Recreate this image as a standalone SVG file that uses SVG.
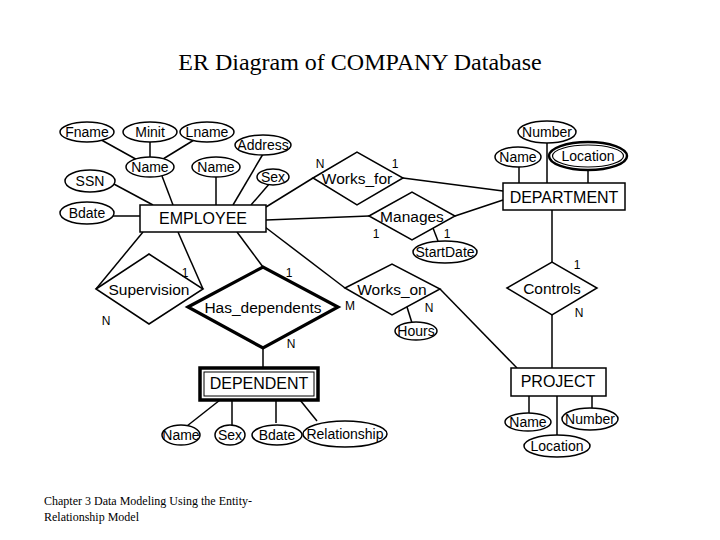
<svg xmlns="http://www.w3.org/2000/svg" width="720" height="540" viewBox="0 0 720 540">
<style>
.bg{fill:#fff}
.ln{stroke:#000;stroke-width:1.5;fill:none}
.sh{fill:#fff;stroke:#000;stroke-width:1.5}
.t{font-family:"Liberation Sans",Arial,sans-serif;fill:#000;text-anchor:middle}
.at{font-size:14px}
.en{font-size:16px}
.rl{font-size:15.5px}
.cd{font-size:12px}
.ser{font-family:"Liberation Serif","Times New Roman",serif;fill:#000}
</style>
<rect class="bg" x="0" y="0" width="720" height="540"/>
<text class="ser" x="360" y="70" font-size="24" text-anchor="middle">ER Diagram of COMPANY Database</text>
<g id="connectors">
<line class="ln" x1="87" y1="132" x2="150" y2="167"/>
<line class="ln" x1="150" y1="132" x2="150" y2="167"/>
<line class="ln" x1="207" y1="132" x2="150" y2="167"/>
<line class="ln" x1="162" y1="176" x2="173" y2="205"/>
<line class="ln" x1="216" y1="176" x2="216" y2="205"/>
<line class="ln" x1="263" y1="154" x2="233" y2="205"/>
<line class="ln" x1="270" y1="183" x2="251" y2="205"/>
<line class="ln" x1="112" y1="183" x2="153" y2="205"/>
<line class="ln" x1="113" y1="216" x2="140" y2="216" stroke-width="2.2"/>
<line class="ln" x1="266" y1="207" x2="313" y2="178"/>
<line class="ln" x1="403" y1="178" x2="503" y2="191"/>
<line class="ln" x1="266" y1="220" x2="369" y2="216"/>
<line class="ln" x1="455" y1="216" x2="503" y2="200"/>
<line class="ln" x1="433" y1="228" x2="438" y2="241"/>
<line class="ln" x1="519" y1="165" x2="519" y2="183"/>
<line class="ln" x1="547" y1="142" x2="547" y2="183"/>
<line class="ln" x1="588" y1="168" x2="588" y2="183"/>
<line class="ln" x1="552" y1="210" x2="552" y2="262"/>
<line class="ln" x1="552" y1="315" x2="552" y2="368"/>
<line class="ln" x1="143" y1="232" x2="96" y2="289"/>
<line class="ln" x1="178" y1="232" x2="203" y2="289"/>
<line class="ln" x1="237" y1="232" x2="263" y2="267"/>
<line class="ln" x1="263" y1="348" x2="263" y2="368"/>
<line class="ln" x1="265" y1="227" x2="345" y2="288"/>
<line class="ln" x1="440" y1="289" x2="517" y2="368"/>
<line class="ln" x1="407" y1="307" x2="412" y2="323"/>
<line class="ln" x1="220" y1="400" x2="187" y2="426"/>
<line class="ln" x1="232" y1="400" x2="232" y2="425"/>
<line class="ln" x1="276" y1="400" x2="276" y2="423"/>
<line class="ln" x1="300" y1="400" x2="317" y2="421"/>
<line class="ln" x1="529" y1="396" x2="529" y2="413"/>
<line class="ln" x1="557" y1="396" x2="557" y2="435"/>
<line class="ln" x1="592" y1="396" x2="592" y2="408"/>
</g>
<g id="fname"><ellipse class="sh" cx="87" cy="132" rx="27" ry="10"/><text class="t at" x="87" y="137">Fname</text></g>
<g id="minit"><ellipse class="sh" cx="150" cy="132" rx="27" ry="10"/><text class="t at" x="150" y="137">Minit</text></g>
<g id="lname"><ellipse class="sh" cx="207" cy="132" rx="27" ry="10"/><text class="t at" x="207" y="137">Lname</text></g>
<g id="address"><ellipse class="sh" cx="263" cy="145" rx="28" ry="10"/><text class="t at" x="263" y="150">Address</text></g>
<g id="emp-name"><ellipse class="sh" cx="150" cy="167" rx="24" ry="10"/><text class="t at" x="150" y="172">Name</text></g>
<g id="emp-name2"><ellipse class="sh" cx="216" cy="167" rx="24" ry="10"/><text class="t at" x="216" y="172">Name</text></g>
<g id="emp-sex"><ellipse class="sh" cx="273" cy="177" rx="16" ry="8"/><text class="t at" x="273" y="182">Sex</text></g>
<g id="ssn"><ellipse class="sh" cx="90" cy="181" rx="25" ry="11"/><text class="t at" x="90" y="186">SSN</text></g>
<g id="emp-bdate"><ellipse class="sh" cx="87" cy="213" rx="27" ry="11"/><text class="t at" x="87" y="218">Bdate</text></g>
<g id="employee"><rect class="sh" x="140" y="205" width="126" height="27"/><text class="t en" x="203" y="224">EMPLOYEE</text></g>
<g id="works_for"><polygon class="sh" points="313,178 357,152 403,178 357,205"/><text class="t rl" x="357" y="184">Works_for</text>
<text class="t cd" x="320" y="168">N</text><text class="t cd" x="395" y="168">1</text></g>
<g id="manages"><polygon class="sh" points="369,216 412,192 455,216 412,240"/><text class="t rl" x="412" y="222">Manages</text>
<text class="t cd" x="376" y="238">1</text><text class="t cd" x="447" y="238">1</text></g>
<g id="startdate"><ellipse class="sh" cx="445" cy="252" rx="32" ry="11"/><text class="t at" x="445" y="257">StartDate</text></g>
<g id="dept-number"><ellipse class="sh" cx="547" cy="132" rx="29" ry="11"/><text class="t at" x="547" y="137">Number</text></g>
<g id="dept-name"><ellipse class="sh" cx="518" cy="157" rx="23" ry="10"/><text class="t at" x="518" y="162">Name</text></g>
<g id="dept-location"><ellipse cx="588" cy="156" rx="39" ry="14" fill="#fff" stroke="#000" stroke-width="2.5"/><ellipse cx="588" cy="156" rx="35.5" ry="11" fill="none" stroke="#000" stroke-width="1.2"/><text class="t at" x="588" y="161">Location</text></g>
<g id="department"><rect class="sh" x="503" y="183" width="122" height="27"/><text class="t en" x="564" y="203">DEPARTMENT</text></g>
<g id="supervision"><polygon class="sh" points="96,289 149,254 203,289 149,324"/><text class="t rl" x="149" y="295">Supervision</text>
<text class="t cd" x="185" y="277">1</text><text class="t cd" x="106" y="325">N</text></g>
<g id="has_dependents"><polygon points="188,307 263,267 338,307 263,348" fill="#fff" stroke="#000" stroke-width="3.2"/><text class="t rl" x="263" y="313">Has_dependents</text>
<text class="t cd" x="289" y="277">1</text><text class="t cd" x="291" y="348">N</text></g>
<g id="works_on"><polygon class="sh" points="345,288 392,264 440,289 392,315"/><text class="t rl" x="392" y="295">Works_on</text>
<text class="t cd" x="350" y="310">M</text><text class="t cd" x="429" y="312">N</text></g>
<g id="hours"><ellipse class="sh" cx="416" cy="331" rx="21" ry="9"/><text class="t at" x="416" y="336">Hours</text></g>
<g id="controls"><polygon class="sh" points="507,288 552,262 597,288 552,315"/><text class="t rl" x="552" y="294">Controls</text>
<text class="t cd" x="577" y="269">1</text><text class="t cd" x="579" y="317">N</text></g>
<g id="dependent"><rect x="200" y="368" width="118" height="32" fill="#fff" stroke="#000" stroke-width="3.5"/><rect x="204" y="372" width="110" height="24" fill="none" stroke="#000" stroke-width="1"/><text class="t en" x="259" y="389">DEPENDENT</text></g>
<g id="dep-name"><ellipse class="sh" cx="181" cy="435" rx="19" ry="10"/><text class="t at" x="181" y="440">Name</text></g>
<g id="dep-sex"><ellipse class="sh" cx="230" cy="435" rx="15" ry="10"/><text class="t at" x="230" y="440">Sex</text></g>
<g id="dep-bdate"><ellipse class="sh" cx="277" cy="435" rx="25" ry="10"/><text class="t at" x="277" y="440">Bdate</text></g>
<g id="dep-relationship"><ellipse class="sh" cx="345" cy="434" rx="42" ry="13"/><text class="t at" x="345" y="439">Relationship</text></g>
<g id="project"><rect class="sh" x="511" y="368" width="95" height="28"/><text class="t en" x="558" y="387">PROJECT</text></g>
<g id="proj-name"><ellipse class="sh" cx="528" cy="422" rx="23" ry="9"/><text class="t at" x="528" y="427">Name</text></g>
<g id="proj-number"><ellipse class="sh" cx="590" cy="419" rx="28" ry="11"/><text class="t at" x="590" y="424">Number</text></g>
<g id="proj-location"><ellipse class="sh" cx="557" cy="446" rx="33" ry="11"/><text class="t at" x="557" y="451">Location</text></g>
<text class="ser" x="44" y="505" font-size="12">Chapter 3 Data Modeling Using the Entity-</text>
<text class="ser" x="44" y="521" font-size="12">Relationship Model</text>
</svg>
